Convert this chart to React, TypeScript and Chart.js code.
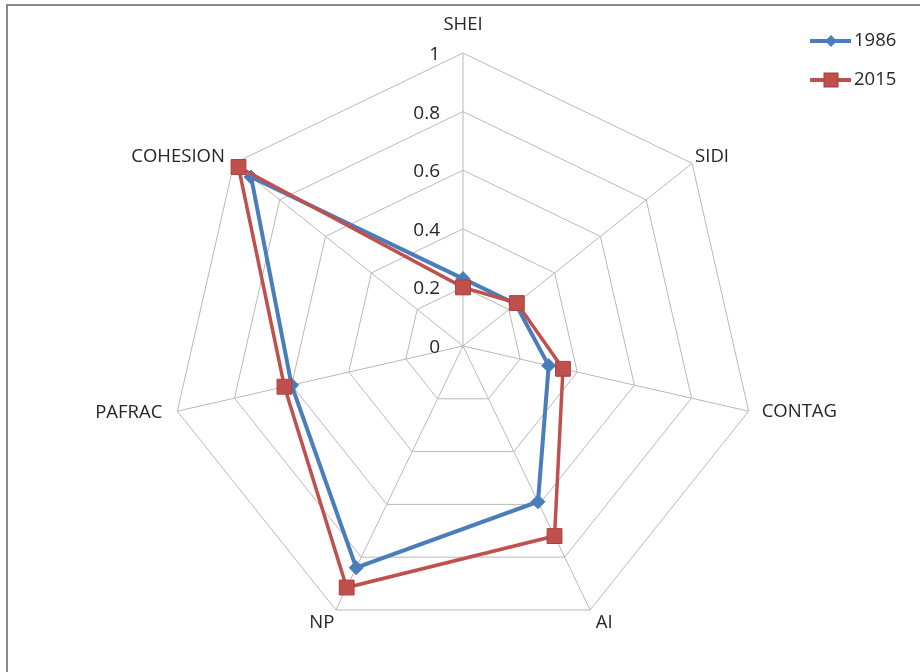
import React, { useEffect, useRef } from "react";
import { Chart, registerables } from "chart.js";

Chart.register(...registerables);

const categories = ["SHEI", "SIDI", "CONTAG", "AI", "NP", "PAFRAC", "COHESION"];
const seriesNames = ["1986", "2015"];
const values1986 = [0.23, 0.23, 0.3, 0.59, 0.84, 0.6, 0.925];
const values2015 = [0.2, 0.235, 0.35, 0.72, 0.915, 0.625, 0.98];
const tickValues = [0, 0.2, 0.4, 0.6, 0.8, 1];
const tickLabels = ["0", "0.2", "0.4", "0.6", "0.8", "1"];

const BLUE = "#4a7ebb";
const RED = "#c0504d";
const FONT = "'Open Sans', 'DejaVu Sans', sans-serif";
const TEXT = "#262626";

// label offsets relative to the outer vertex: [dx, dy, align]
const labelOffsets: [number, number, CanvasTextAlign][] = [
  [0, -28, "center"],
  [3, -7, "left"],
  [13, 1, "left"],
  [14, 13, "center"],
  [-14, 13, "center"],
  [-15, 2, "right"],
  [-9, -7, "right"],
];

const overlayPlugin = {
  id: "overlay",
  beforeDatasetsDraw(chart: any) {
    const ctx = chart.ctx;
    const scale = chart.scales.r;
    ctx.save();
    ctx.fillStyle = TEXT;
    ctx.textBaseline = "middle";
    ctx.font = `18.5px ${FONT}`;
    // point labels
    categories.forEach((c, i) => {
      const p = scale.getPointPosition(i, scale.drawingArea);
      const [dx, dy, align] = labelOffsets[i];
      ctx.textAlign = align;
      ctx.fillText(c, p.x + dx, p.y + dy);
    });
    // tick labels
    ctx.font = `19px ${FONT}`;
    ctx.textAlign = "right";
    tickValues.forEach((v, i) => {
      const d = scale.getDistanceFromCenterForValue(v);
      ctx.fillText(tickLabels[i], scale.xCenter - 23, scale.yCenter - d + 1.5);
    });
    ctx.restore();
  },
  afterDraw(chart: any) {
    const ctx = chart.ctx;
    ctx.save();
    // frame
    ctx.strokeStyle = "#8a8a8a";
    ctx.lineWidth = 2;
    ctx.beginPath();
    ctx.moveTo(7, 672);
    ctx.lineTo(7, 5);
    ctx.lineTo(920, 5);
    ctx.stroke();
    // legend
    const colors = [BLUE, RED];
    const ys = [41, 80];
    seriesNames.forEach((name, i) => {
      const y = ys[i];
      ctx.strokeStyle = colors[i];
      ctx.lineWidth = 4;
      ctx.beginPath();
      ctx.moveTo(810, y);
      ctx.lineTo(851, y);
      ctx.stroke();
      ctx.fillStyle = colors[i];
      if (i === 0) {
        ctx.beginPath();
        ctx.moveTo(831, y - 6);
        ctx.lineTo(837, y);
        ctx.lineTo(831, y + 6);
        ctx.lineTo(825, y);
        ctx.closePath();
        ctx.fill();
      } else {
        ctx.fillRect(824, y - 7, 14, 14);
        ctx.strokeStyle = "#a0403d";
        ctx.lineWidth = 1;
        ctx.strokeRect(824, y - 7, 14, 14);
      }
      ctx.fillStyle = TEXT;
      ctx.font = `18.5px ${FONT}`;
      ctx.textAlign = "left";
      ctx.textBaseline = "middle";
      ctx.fillText(name, 854, y);
    });
    ctx.restore();
  },
};

export default function App() {
  const ref = useRef<HTMLCanvasElement | null>(null);
  useEffect(() => {
    if (!ref.current) return;
    const chart = new Chart(ref.current, {
      type: "radar",
      data: {
        labels: categories,
        datasets: [
          {
            label: seriesNames[0],
            data: values1986,
            borderColor: BLUE,
            backgroundColor: BLUE,
            borderWidth: 4,
            fill: false,
            pointStyle: "rectRot",
            pointRadius: 7,
            pointBackgroundColor: BLUE,
            pointBorderColor: BLUE,
            pointBorderWidth: 1,
            order: 1,
          },
          {
            label: seriesNames[1],
            data: values2015,
            borderColor: RED,
            backgroundColor: RED,
            borderWidth: 3.5,
            fill: false,
            pointStyle: "rect",
            pointRadius: 10.5,
            pointBackgroundColor: RED,
            pointBorderColor: "#a8423f",
            pointBorderWidth: 1,
            order: 0,
          },
        ],
      },
      options: {
        animation: false,
        responsive: false,
        maintainAspectRatio: false,
        layout: { padding: { left: 170, right: 164, top: 53, bottom: 33 } },
        plugins: { legend: { display: false }, tooltip: { enabled: false } },
        elements: { line: { tension: 0 } },
        scales: {
          r: {
            min: 0,
            max: 1,
            ticks: { stepSize: 0.2, display: false, showLabelBackdrop: false },
            pointLabels: { display: false },
            grid: { color: "#b8b8b8", lineWidth: 1, circular: false },
            angleLines: { color: "#b8b8b8", lineWidth: 1 },
          },
        },
      },
      plugins: [overlayPlugin],
    });
    return () => chart.destroy();
  }, []);
  return (
    <div style={{ position: "fixed", left: 0, top: 0, width: 920, height: 672, background: "#fff" }}>
      <canvas ref={ref} width={920} height={672} style={{ width: 920, height: 672, display: "block" }} />
    </div>
  );
}
